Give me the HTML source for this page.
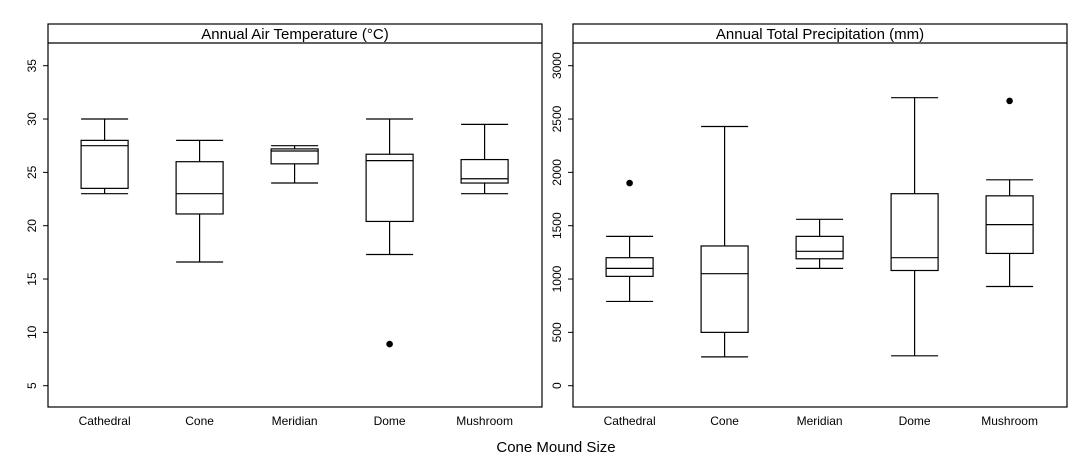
<!DOCTYPE html>
<html><head><meta charset="utf-8"><style>
body{margin:0;background:#fff;}
svg{display:block;font-family:"Liberation Sans",Arial,sans-serif;}
</style></head><body>
<svg id="chart" width="1083" height="468"></svg>
<script>
const categories=["Cathedral","Cone","Meridian","Dome","Mushroom"];
const tempLow=[23,16.6,24,17.3,23];
const tempQ1=[23.5,21.1,25.8,20.4,24];
const tempMed=[27.5,23,27,26.1,24.4];
const tempQ3=[28,26,27.2,26.7,26.2];
const tempHigh=[30,28,27.5,30,29.5];
const tempOutCat=[3];
const tempOutVal=[8.9];
const tempTicks=[5,10,15,20,25,30,35];
const precLow=[790,270,1100,280,930];
const precQ1=[1025,500,1190,1080,1240];
const precMed=[1100,1050,1260,1200,1510];
const precQ3=[1200,1310,1400,1800,1780];
const precHigh=[1400,2430,1560,2700,1930];
const precOutCat=[0,4];
const precOutVal=[1900,2670];
const precTicks=[0,500,1000,1500,2000,2500,3000];

const NS="http://www.w3.org/2000/svg";
const svg=document.getElementById('chart');
function mk(tag,attrs,parent){const e=document.createElementNS(NS,tag);for(const k in attrs)e.setAttribute(k,attrs[k]);(parent||svg).appendChild(e);return e;}

function panel(px,title,vmin,vmax,ticks,low,q1,med,q3,high,oc,ov,tickSide,name){
  const top=24,strip=43,bottom=407,w=494;
  const y0=385.7,y1=65.7;
  const y=v=>y0-(v-vmin)/(vmax-vmin)*(y0-y1);
  const x=i=>px+56.6+i*95;
  const g=mk('g',{});
  
  
  const r=mk('rect',{x:px,y:top,width:w,height:bottom-top,fill:'none',stroke:'#000','stroke-width':1.2},g);
  
  const s=mk('line',{x1:px,x2:px+w,y1:strip,y2:strip,stroke:'#000','stroke-width':1.2},g);
  
  const t=mk('text',{x:px+w/2,y:39,'text-anchor':'middle','font-size':15},g);t.textContent=title;
  
  ticks.forEach(v=>{
    const tx=tickSide==='left'?px:px+w;
    const d=tickSide==='left'?-5:5;
    const tl=mk('line',{x1:tx,x2:tx+d,y1:y(v),y2:y(v),stroke:'#000'},g);
    
    const lx=tickSide==='left'?px-12:px+w+16;
    const lb=mk('text',{x:lx,y:y(v),'font-size':12,'text-anchor':'middle',transform:`rotate(-90 ${lx} ${y(v)})`},g);
    lb.textContent=v;
    
  });
  categories.forEach((c,i)=>{
    const cx=x(i),hw=23.5;
    const bg=mk('g',{},g);
    
    
    const st={stroke:'#000','stroke-width':1.2,fill:'none'};
    mk('line',Object.assign({x1:cx,x2:cx,y1:y(high[i]),y2:y(q3[i])},st),bg);
    mk('line',Object.assign({x1:cx,x2:cx,y1:y(q1[i]),y2:y(low[i])},st),bg);
    mk('line',Object.assign({x1:cx-hw,x2:cx+hw,y1:y(high[i]),y2:y(high[i])},st),bg);
    mk('line',Object.assign({x1:cx-hw,x2:cx+hw,y1:y(low[i]),y2:y(low[i])},st),bg);
    mk('rect',Object.assign({x:cx-hw,y:y(q3[i]),width:2*hw,height:y(q1[i])-y(q3[i])},st),bg);
    mk('line',Object.assign({x1:cx-hw,x2:cx+hw,y1:y(med[i]),y2:y(med[i])},st),bg);
    const xt=mk('text',{x:cx,y:425,'text-anchor':'middle','font-size':12},g);xt.textContent=c;
    
  });
  oc.forEach((ci,k)=>{
    const p=mk('circle',{cx:x(ci),cy:y(ov[k]),r:3.3,fill:'#000'},g);
    
  });
}
panel(48,"Annual Air Temperature (°C)",5,35,tempTicks,tempLow,tempQ1,tempMed,tempQ3,tempHigh,tempOutCat,tempOutVal,'left','temperature-panel');
panel(573,"Annual Total Precipitation (mm)",0,3000,precTicks,precLow,precQ1,precMed,precQ3,precHigh,precOutCat,precOutVal,'left','precipitation-panel');
const xt=mk('text',{x:556,y:452,'text-anchor':'middle','font-size':15});
xt.textContent="Cone Mound Size";


</script>
</body></html>
